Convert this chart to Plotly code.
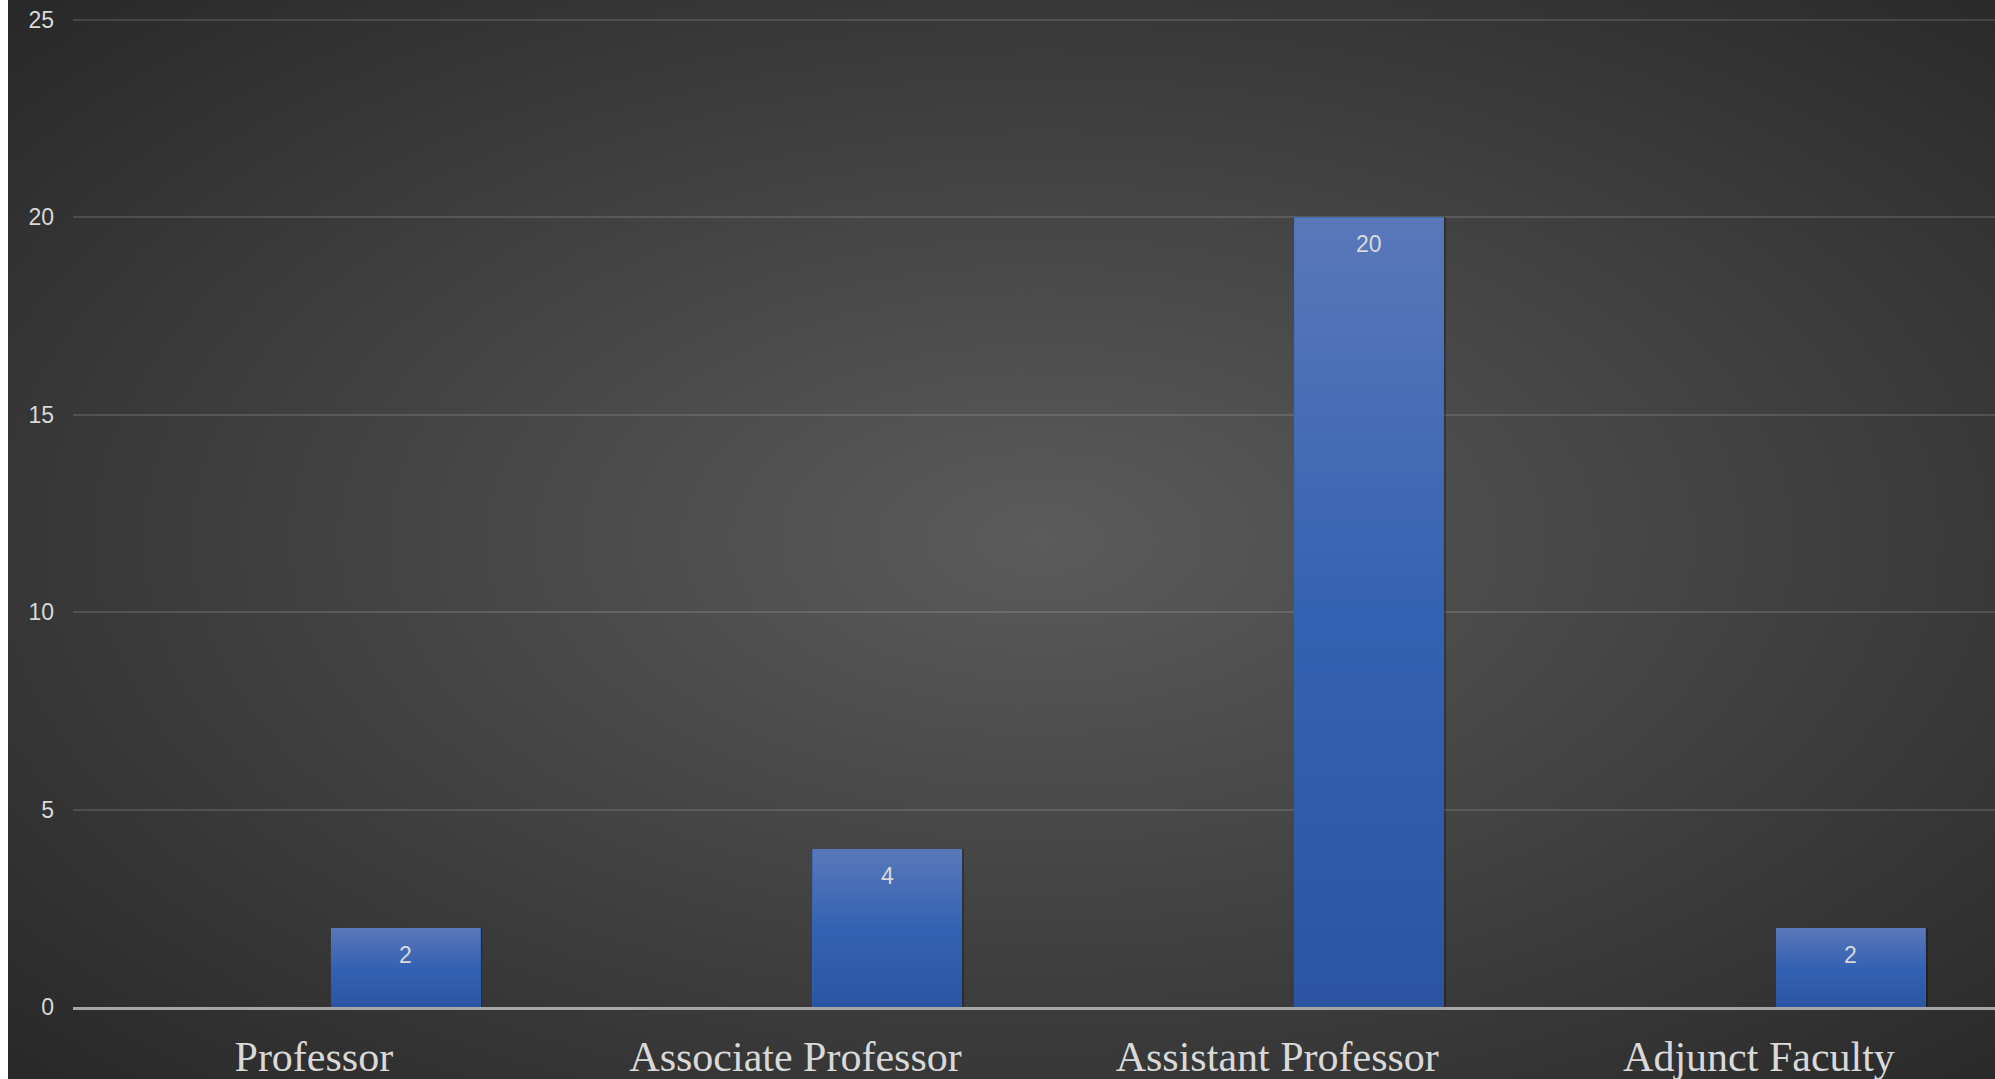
import base64
import plotly.graph_objects as go

# Faculty counts by rank
categories = ["Professor", "Associate Professor", "Assistant Professor", "Adjunct Faculty"]
counts = [2, 4, 20, 2]
y_ticks = [0, 5, 10, 15, 20, 25]

W, H = 1995, 1079
M_L, M_R, M_T, M_B = 73, 0, 18, 72
BAR_OFFSET = 0.035
BAR_WIDTH = 0.311
Y_TOP = 25.0507  # a hair above 25 so the top gridline stays visible

positions = list(range(len(categories)))


def svg_uri(svg):
    return "data:image/svg+xml;base64," + base64.b64encode(svg.encode()).decode()


# Dark radial backdrop for the chart area
backdrop = svg_uri(
    '<svg xmlns="http://www.w3.org/2000/svg" width="1987" height="1079" '
    'preserveAspectRatio="none" viewBox="0 0 1987 1079">'
    '<defs><radialGradient id="g" cx="0.52" cy="0.5" r="0.72">'
    '<stop offset="0" stop-color="#5b5b5b"/>'
    '<stop offset="1" stop-color="#282828"/>'
    '</radialGradient></defs>'
    '<rect width="1987" height="1079" fill="url(#g)"/></svg>'
)

# Vertical blue fill used on each column
bar_fill = svg_uri(
    '<svg xmlns="http://www.w3.org/2000/svg" width="10" height="100" '
    'preserveAspectRatio="none" viewBox="0 0 10 100">'
    '<defs><linearGradient id="b" x1="0" y1="0" x2="0" y2="1">'
    '<stop offset="0" stop-color="#5a78ba"/>'
    '<stop offset="0.5" stop-color="#3462b2"/>'
    '<stop offset="1" stop-color="#2b55a3"/>'
    '</linearGradient></defs>'
    '<rect width="10" height="100" fill="url(#b)"/></svg>'
)

fig = go.Figure()

# soft drop shadow behind the columns
fig.add_trace(go.Bar(
    x=[p + 0.004 for p in positions], y=counts,
    offset=BAR_OFFSET, width=BAR_WIDTH,
    marker=dict(color="rgba(0,0,0,0.28)", line=dict(width=0)),
    hoverinfo="skip", showlegend=False,
))

fig.add_trace(go.Bar(
    x=positions, y=counts,
    offset=BAR_OFFSET, width=BAR_WIDTH,
    marker=dict(color="#3462b2", line=dict(width=0)),
    showlegend=False,
))

plot_w = W - M_L - M_R
plot_h = H - M_T - M_B

images = [dict(
    source=backdrop, xref="paper", yref="paper",
    x=(8 - M_L) / plot_w, y=1 + M_T / plot_h,
    sizex=(W - 8) / plot_w, sizey=H / plot_h,
    xanchor="left", yanchor="top", sizing="stretch", layer="below",
)]
for p, v in zip(positions, counts):
    images.append(dict(
        source=bar_fill, xref="x", yref="y",
        x=p + BAR_OFFSET, y=v, sizex=BAR_WIDTH, sizey=v,
        xanchor="left", yanchor="top", sizing="stretch", layer="above",
    ))

annotations = [
    dict(x=p + BAR_OFFSET + BAR_WIDTH / 2, y=v, xref="x", yref="y",
         text=str(v), showarrow=False, yanchor="middle", xanchor="center",
         yshift=-27,
         font=dict(family="Liberation Sans, Arial, sans-serif", size=23, color="#d9d9d9"))
    for p, v in zip(positions, counts)
]

fig.update_layout(
    width=W, height=H,
    margin=dict(l=M_L, r=M_R, t=M_T, b=M_B, pad=0, autoexpand=False),
    paper_bgcolor="#ffffff",
    plot_bgcolor="rgba(0,0,0,0)",
    images=images,
    annotations=annotations,
    barmode="overlay",
    bargap=0,
    xaxis=dict(
        range=[-0.5, 3.49], automargin=False,
        tickmode="array", tickvals=positions, ticktext=categories,
        tickfont=dict(family="Liberation Serif, Times New Roman, serif", size=42, color="#d9d9d9"),
        ticks="", ticklabelstandoff=11,
        showgrid=False, zeroline=False,
        showline=True, linecolor="#a6a6a6", linewidth=2.5, layer="above traces",
        fixedrange=True,
    ),
    yaxis=dict(
        range=[0, Y_TOP], automargin=False,
        tickmode="array", tickvals=y_ticks,
        tickfont=dict(family="Liberation Sans, Arial, sans-serif", size=23, color="#d9d9d9"),
        ticks="", ticklabelstandoff=18,
        showgrid=True, gridcolor="rgba(255,255,255,0.13)", gridwidth=1.5,
        zeroline=False, showline=False,
        fixedrange=True,
    ),
)

fig.write_html("out.html")
